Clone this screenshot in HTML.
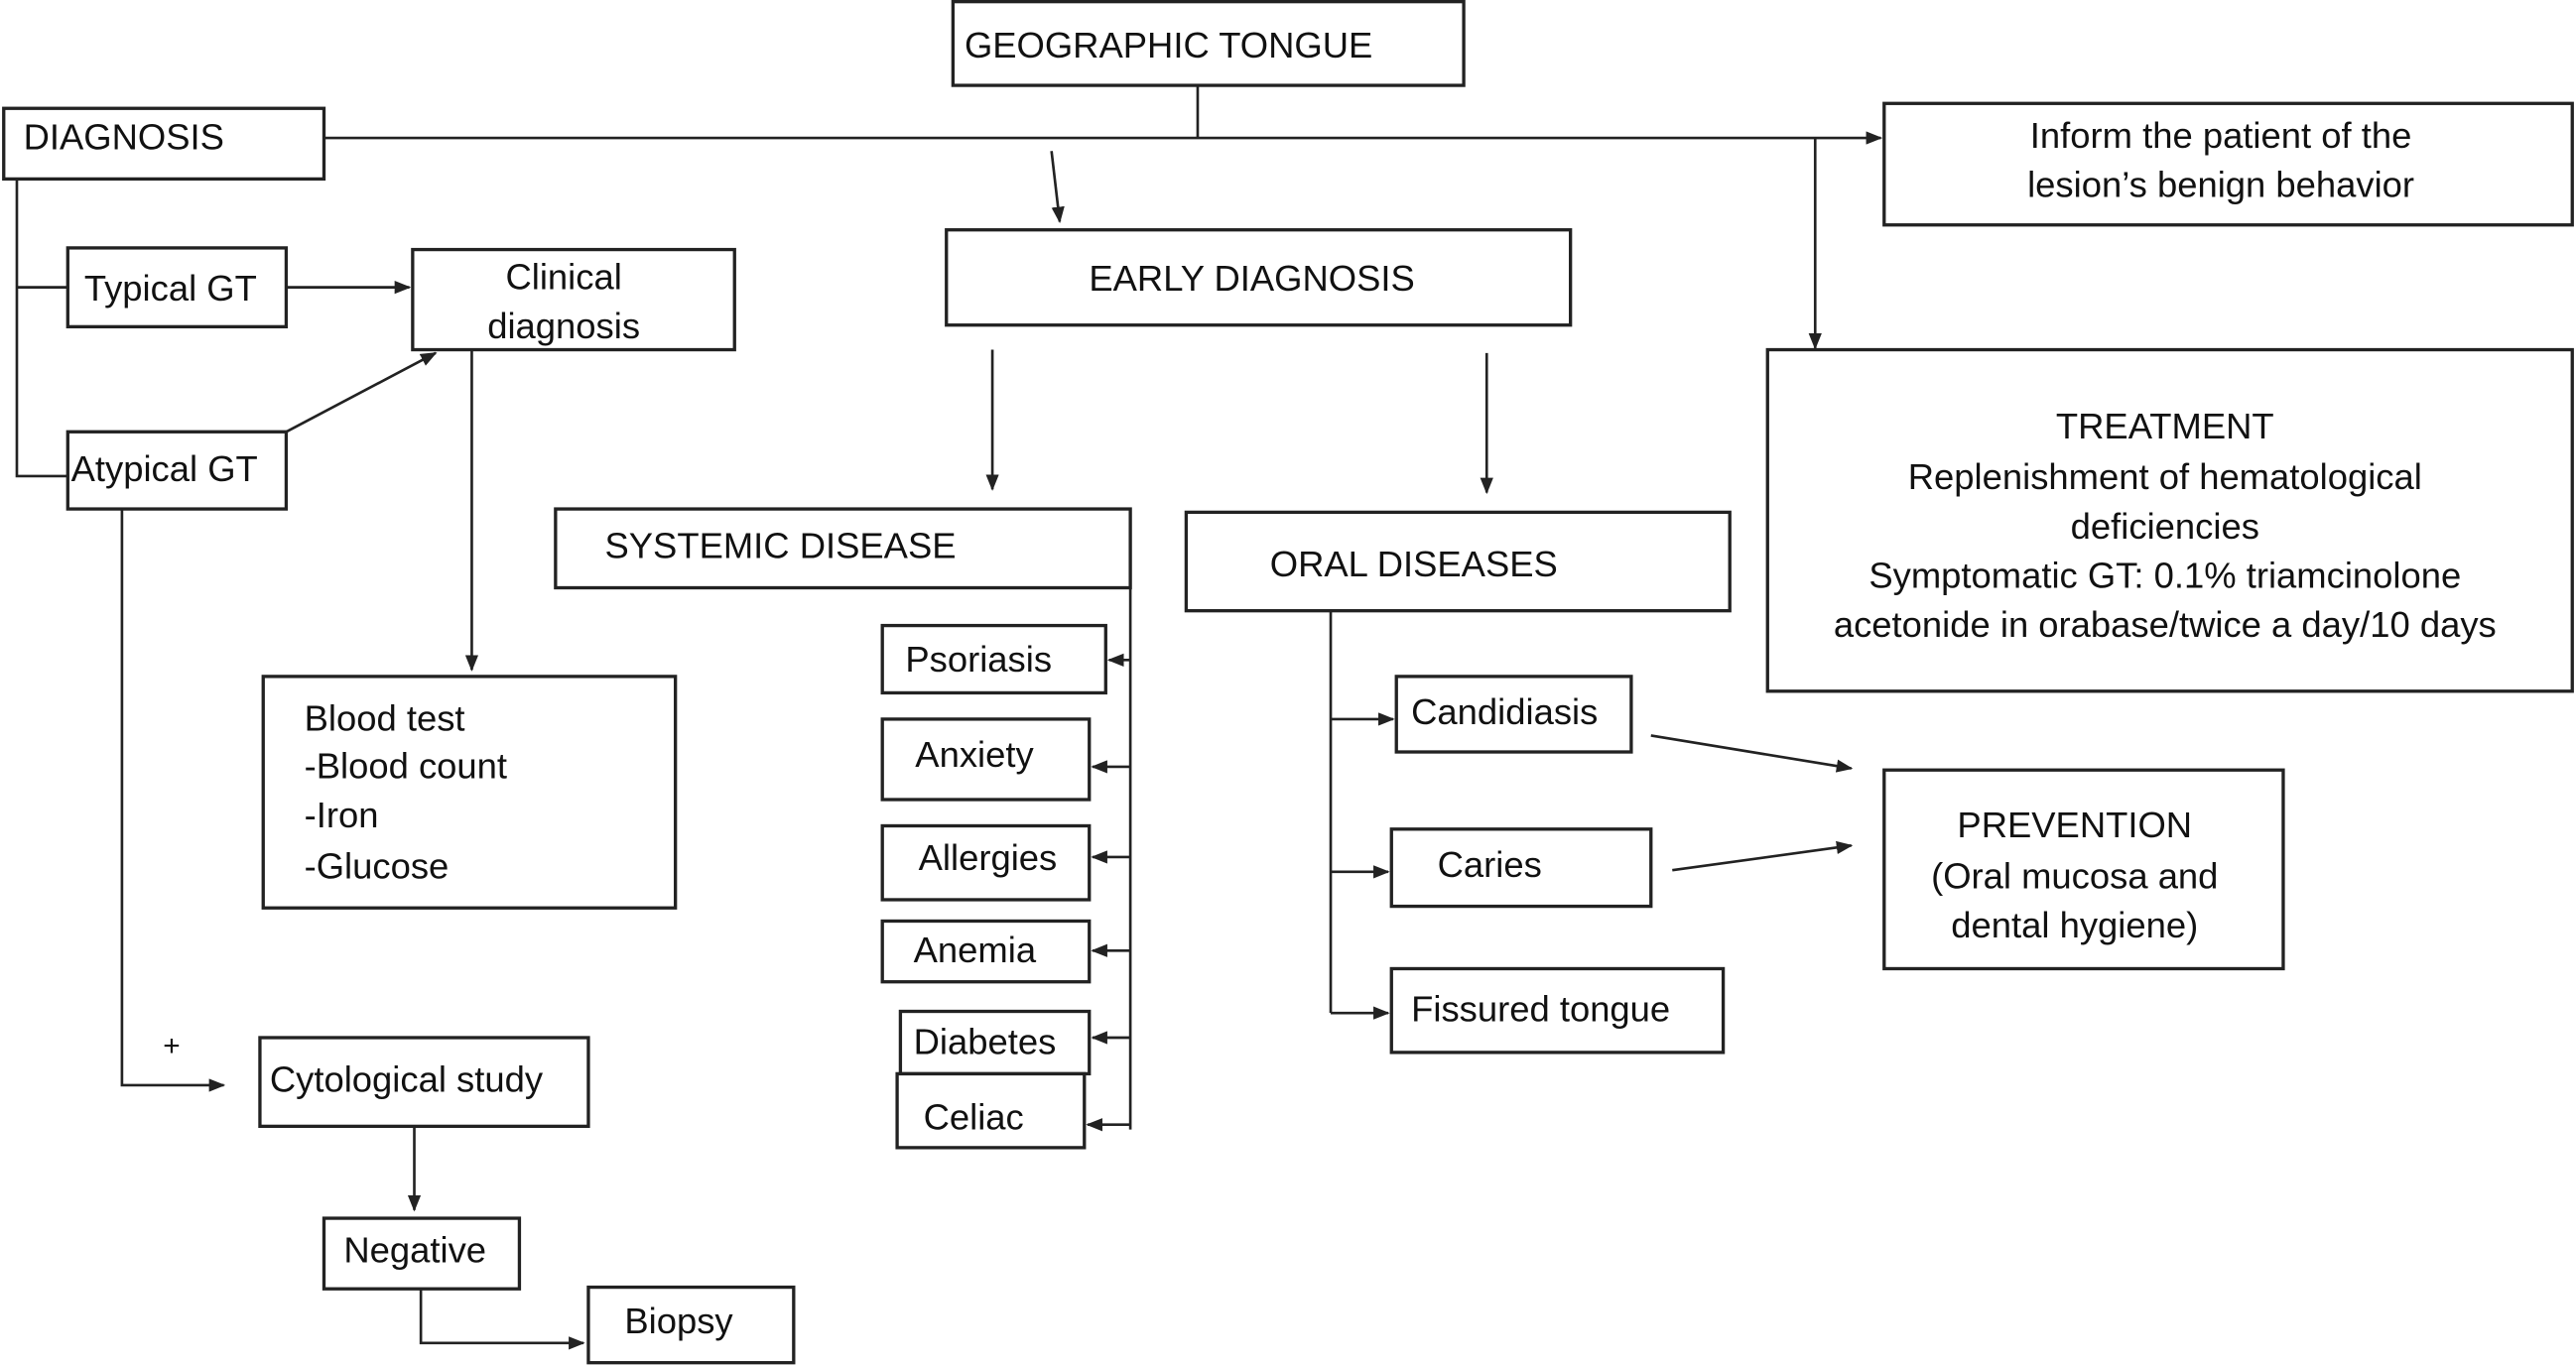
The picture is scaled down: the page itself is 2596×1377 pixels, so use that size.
<!DOCTYPE html>
<html><head><meta charset="utf-8"><style>html,body{margin:0;padding:0;background:#fff}svg{display:block}</style></head>
<body>
<svg width="2596" height="1377" viewBox="0 0 1568 832" xmlns="http://www.w3.org/2000/svg" font-family="Liberation Sans, Arial, sans-serif" font-size="22" fill="#111">
<defs><marker id="a" markerWidth="10" markerHeight="8" refX="9" refY="4" orient="auto" markerUnits="userSpaceOnUse"><path d="M0,0 L10,4 L0,8 z" fill="#222"/></marker></defs>
<g fill="none" stroke="#222" stroke-width="2">
<rect x="580" y="1" width="311" height="51"/>
<rect x="2" y="66" width="195" height="43"/>
<rect x="1147" y="63" width="419" height="74"/>
<rect x="576" y="140" width="380" height="58"/>
<rect x="338" y="310" width="350" height="48"/>
<rect x="537" y="381" width="136" height="41"/>
<rect x="537" y="438" width="126" height="49"/>
<rect x="537" y="503" width="126" height="45"/>
<rect x="537" y="561" width="126" height="37"/>
<rect x="548" y="616" width="115" height="38"/>
<rect x="546" y="654" width="114" height="45"/>
<rect x="722" y="312" width="331" height="60"/>
<rect x="850" y="412" width="143" height="46"/>
<rect x="847" y="505" width="158" height="47"/>
<rect x="847" y="590" width="202" height="51"/>
<rect x="1147" y="469" width="243" height="121"/>
<rect x="1076" y="213" width="490" height="208"/>
<rect x="41" y="151" width="133" height="48"/>
<rect x="41" y="263" width="133" height="47"/>
<rect x="251" y="152" width="196" height="61"/>
<rect x="160" y="412" width="251" height="141"/>
<rect x="158" y="632" width="200" height="54"/>
<rect x="197" y="742" width="119" height="43"/>
<rect x="358" y="784" width="125" height="46"/>
</g>
<g fill="none" stroke="#222" stroke-width="1.6">
<path d="M197,84 H1145" marker-end="url(#a)"/>
<path d="M729,52 V84"/>
<path d="M640,92 L645,135" marker-end="url(#a)"/>
<path d="M1105,84 V212" marker-end="url(#a)"/>
<path d="M604,213 V298" marker-end="url(#a)"/>
<path d="M905,215 V300" marker-end="url(#a)"/>
<path d="M688,322 V688"/>
<path d="M688,402 H675" marker-end="url(#a)"/>
<path d="M688,467 H665" marker-end="url(#a)"/>
<path d="M688,522 H665" marker-end="url(#a)"/>
<path d="M688,579 H665" marker-end="url(#a)"/>
<path d="M688,632 H665" marker-end="url(#a)"/>
<path d="M688,685 H662" marker-end="url(#a)"/>
<path d="M810,372 V617"/>
<path d="M810,438 H848" marker-end="url(#a)"/>
<path d="M810,531 H845" marker-end="url(#a)"/>
<path d="M810,617 H845" marker-end="url(#a)"/>
<path d="M1005,448 L1127,468" marker-end="url(#a)"/>
<path d="M1018,530 L1127,515" marker-end="url(#a)"/>
<path d="M10,109 V290 H41"/>
<path d="M10,175 H41"/>
<path d="M174,175 H249" marker-end="url(#a)"/>
<path d="M174,263 L265,215" marker-end="url(#a)"/>
<path d="M287,213 V408" marker-end="url(#a)"/>
<path d="M74,310 V661 H136" marker-end="url(#a)"/>
<path d="M252,686 V737" marker-end="url(#a)"/>
<path d="M256,785 V818 H355" marker-end="url(#a)"/>
</g>
<text x="587" y="35">GEOGRAPHIC TONGUE</text>
<text x="14" y="91">DIAGNOSIS</text>
<g text-anchor="middle">
<text x="1352" y="90">Inform the patient of the</text>
<text x="1352" y="120">lesion’s benign behavior</text>
<text x="762" y="177">EARLY DIAGNOSIS</text>
<text x="343" y="176">Clinical</text>
<text x="343" y="206">diagnosis</text>
<text x="1263" y="510">PREVENTION</text>
<text x="1263" y="541">(Oral mucosa and</text>
<text x="1263" y="571">dental hygiene)</text>
<text x="1318" y="267">TREATMENT</text>
<text x="1318" y="298">Replenishment of hematological</text>
<text x="1318" y="328">deficiencies</text>
<text x="1318" y="358">Symptomatic GT: 0.1% triamcinolone</text>
<text x="1318" y="388">acetonide in orabase/twice a day/10 days</text>
</g>
<text x="368" y="340">SYSTEMIC DISEASE</text>
<text x="551" y="409">Psoriasis</text>
<text x="557" y="467">Anxiety</text>
<text x="559" y="530">Allergies</text>
<text x="556" y="586">Anemia</text>
<text x="556" y="642">Diabetes</text>
<text x="562" y="688">Celiac</text>
<text x="773" y="351">ORAL DISEASES</text>
<text x="859" y="441">Candidiasis</text>
<text x="875" y="534">Caries</text>
<text x="859" y="622">Fissured tongue</text>
<text x="51" y="183">Typical GT</text>
<text x="43" y="293">Atypical GT</text>
<text x="185" y="445">Blood test</text>
<text x="185" y="474">-Blood count</text>
<text x="185" y="504">-Iron</text>
<text x="185" y="535">-Glucose</text>
<text x="99" y="643" font-size="18">+</text>
<text x="164" y="665">Cytological study</text>
<text x="209" y="769">Negative</text>
<text x="380" y="812">Biopsy</text>
</svg>
</body></html>
